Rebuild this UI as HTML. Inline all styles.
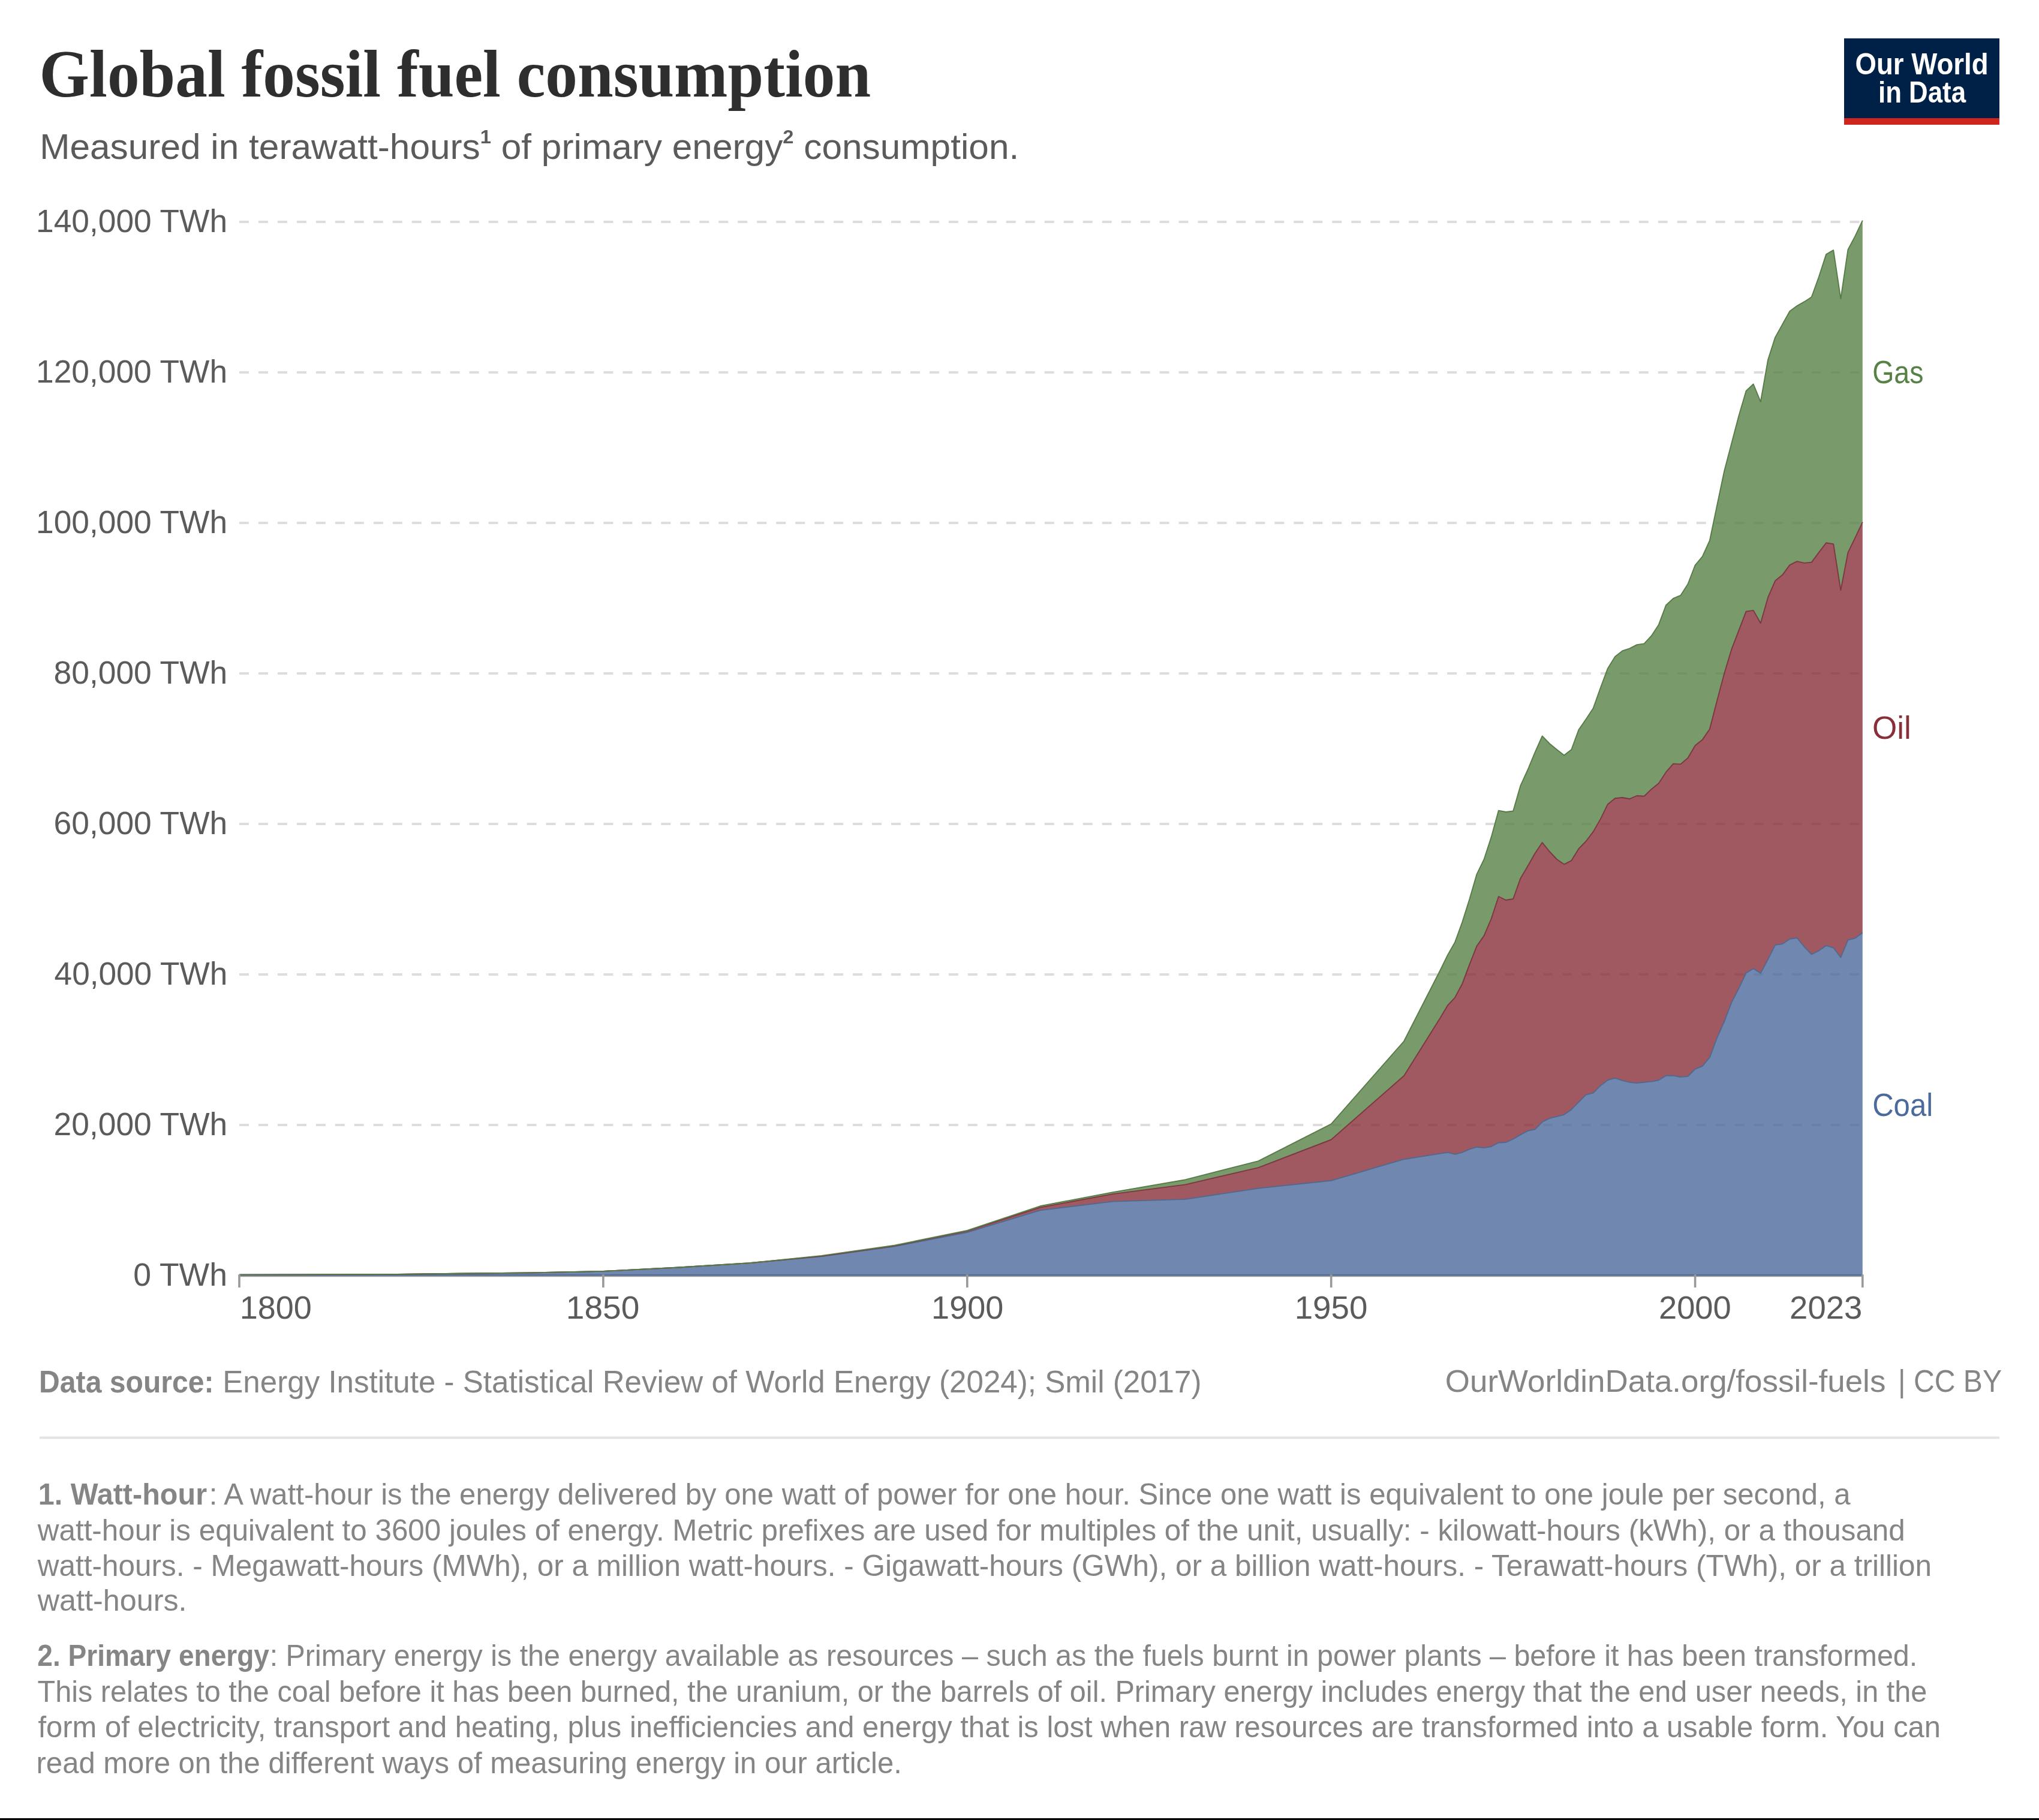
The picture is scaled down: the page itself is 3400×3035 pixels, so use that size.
<!DOCTYPE html>
<html><head><meta charset="utf-8"><title>Global fossil fuel consumption</title>
<style>
html,body{margin:0;padding:0;background:#fff;}
body{width:3400px;height:3035px;overflow:hidden;font-family:"Liberation Sans",sans-serif;}
svg{display:block;will-change:transform;}
</style></head><body>
<svg width="3400" height="3035" viewBox="0 0 3400 3035">
<rect width="3400" height="3035" fill="#fff"/>
<line x1="399" y1="1876.0" x2="3106" y2="1876.0" stroke="#dddddd" stroke-width="4" stroke-dasharray="15.985,15.985"/>
<line x1="399" y1="1625.0" x2="3106" y2="1625.0" stroke="#dddddd" stroke-width="4" stroke-dasharray="15.985,15.985"/>
<line x1="399" y1="1374.1" x2="3106" y2="1374.1" stroke="#dddddd" stroke-width="4" stroke-dasharray="15.985,15.985"/>
<line x1="399" y1="1123.1" x2="3106" y2="1123.1" stroke="#dddddd" stroke-width="4" stroke-dasharray="15.985,15.985"/>
<line x1="399" y1="872.1" x2="3106" y2="872.1" stroke="#dddddd" stroke-width="4" stroke-dasharray="15.985,15.985"/>
<line x1="399" y1="621.1" x2="3106" y2="621.1" stroke="#dddddd" stroke-width="4" stroke-dasharray="15.985,15.985"/>
<line x1="399" y1="370.1" x2="3106" y2="370.1" stroke="#dddddd" stroke-width="4" stroke-dasharray="15.985,15.985"/>
<line x1="399" y1="2128.3" x2="3107" y2="2128.3" stroke="#999999" stroke-width="2"/>
<polygon points="399.0,2127.4 399.0,2125.8 520.4,2125.4 641.8,2125.1 763.1,2123.7 884.5,2122.5 1005.9,2119.9 1127.3,2113.7 1248.7,2106.4 1370.0,2095.1 1491.4,2078.6 1612.8,2055.1 1734.2,2018.4 1855.6,2003.6 1976.9,1999.9 2098.3,1981.6 2219.7,1968.8 2341.1,1933.2 2401.8,1923.6 2413.9,1921.7 2426.0,1924.8 2438.2,1921.9 2450.3,1916.3 2462.5,1912.8 2474.6,1914.1 2486.7,1912.0 2498.9,1905.5 2511.0,1905.0 2523.2,1899.5 2535.3,1892.4 2547.4,1885.8 2559.6,1883.3 2571.7,1871.0 2583.8,1864.9 2596.0,1861.8 2608.1,1858.8 2620.3,1850.2 2632.4,1837.9 2644.5,1825.7 2656.7,1822.6 2668.8,1810.3 2680.9,1801.2 2693.1,1797.8 2705.2,1801.8 2717.4,1804.8 2729.5,1806.1 2741.6,1804.8 2753.8,1803.6 2765.9,1801.2 2778.0,1793.8 2790.2,1793.8 2802.3,1796.0 2814.5,1794.9 2826.6,1782.8 2838.7,1777.9 2850.9,1763.3 2863.0,1731.0 2875.2,1703.5 2887.3,1671.9 2899.4,1648.4 2911.6,1622.5 2923.7,1615.3 2935.8,1622.9 2948.0,1599.9 2960.1,1575.9 2972.3,1574.0 2984.4,1565.9 2996.5,1564.0 3008.7,1578.8 3020.8,1591.5 3032.9,1585.3 3045.1,1576.9 3057.2,1580.5 3069.4,1596.6 3081.5,1567.5 3093.6,1564.3 3105.8,1555.4 3105.8,2127.4" fill="#4c6a9c" fill-opacity="0.80"/>
<polygon points="399.0,2125.8 520.4,2125.4 641.8,2125.1 763.1,2123.7 884.5,2122.5 1005.9,2119.9 1127.3,2113.7 1248.7,2106.3 1370.0,2094.7 1491.4,2077.5 1612.8,2052.8 1734.2,2013.6 1855.6,1991.1 1976.9,1975.4 2098.3,1947.1 2219.7,1900.5 2341.1,1794.0 2401.8,1697.0 2413.9,1676.7 2426.0,1663.6 2438.2,1640.8 2450.3,1608.6 2462.5,1577.7 2474.6,1560.4 2486.7,1532.0 2498.9,1495.0 2511.0,1501.0 2523.2,1499.0 2535.3,1465.0 2547.4,1444.5 2559.6,1423.0 2571.7,1405.0 2583.8,1420.0 2596.0,1433.0 2608.1,1441.3 2620.3,1435.1 2632.4,1415.4 2644.5,1403.0 2656.7,1386.9 2668.8,1365.9 2680.9,1341.2 2693.1,1331.3 2705.2,1330.0 2717.4,1332.2 2729.5,1327.0 2741.6,1327.8 2753.8,1315.9 2765.9,1306.3 2778.0,1287.7 2790.2,1273.6 2802.3,1274.4 2814.5,1264.0 2826.6,1243.2 2838.7,1233.6 2850.9,1215.8 2863.0,1169.0 2875.2,1123.0 2887.3,1082.9 2899.4,1051.4 2911.6,1019.7 2923.7,1017.9 2935.8,1039.3 2948.0,996.4 2960.1,968.6 2972.3,958.6 2984.4,942.1 2996.5,936.1 3008.7,938.9 3020.8,937.6 3032.9,921.4 3045.1,905.3 3057.2,907.1 3069.4,984.3 3081.5,921.4 3093.6,896.4 3105.8,870.7 3105.8,1555.4 3093.6,1564.3 3081.5,1567.5 3069.4,1596.6 3057.2,1580.5 3045.1,1576.9 3032.9,1585.3 3020.8,1591.5 3008.7,1578.8 2996.5,1564.0 2984.4,1565.9 2972.3,1574.0 2960.1,1575.9 2948.0,1599.9 2935.8,1622.9 2923.7,1615.3 2911.6,1622.5 2899.4,1648.4 2887.3,1671.9 2875.2,1703.5 2863.0,1731.0 2850.9,1763.3 2838.7,1777.9 2826.6,1782.8 2814.5,1794.9 2802.3,1796.0 2790.2,1793.8 2778.0,1793.8 2765.9,1801.2 2753.8,1803.6 2741.6,1804.8 2729.5,1806.1 2717.4,1804.8 2705.2,1801.8 2693.1,1797.8 2680.9,1801.2 2668.8,1810.3 2656.7,1822.6 2644.5,1825.7 2632.4,1837.9 2620.3,1850.2 2608.1,1858.8 2596.0,1861.8 2583.8,1864.9 2571.7,1871.0 2559.6,1883.3 2547.4,1885.8 2535.3,1892.4 2523.2,1899.5 2511.0,1905.0 2498.9,1905.5 2486.7,1912.0 2474.6,1914.1 2462.5,1912.8 2450.3,1916.3 2438.2,1921.9 2426.0,1924.8 2413.9,1921.7 2401.8,1923.6 2341.1,1933.2 2219.7,1968.8 2098.3,1981.6 1976.9,1999.9 1855.6,2003.6 1734.2,2018.4 1612.8,2055.1 1491.4,2078.6 1370.0,2095.1 1248.7,2106.4 1127.3,2113.7 1005.9,2119.9 884.5,2122.5 763.1,2123.7 641.8,2125.1 520.4,2125.4 399.0,2125.8" fill="#883039" fill-opacity="0.80"/>
<polygon points="399.0,2125.8 520.4,2125.4 641.8,2125.1 763.1,2123.7 884.5,2122.5 1005.9,2119.9 1127.3,2113.7 1248.7,2106.3 1370.0,2093.9 1491.4,2076.7 1612.8,2052.0 1734.2,2011.3 1855.6,1988.1 1976.9,1967.2 2098.3,1936.1 2219.7,1874.3 2341.1,1736.3 2401.8,1617.5 2413.9,1592.6 2426.0,1571.5 2438.2,1538.1 2450.3,1499.8 2462.5,1457.8 2474.6,1433.0 2486.7,1395.9 2498.9,1351.6 2511.0,1354.0 2523.2,1352.5 2535.3,1310.4 2547.4,1284.0 2559.6,1254.6 2571.7,1227.4 2583.8,1240.0 2596.0,1250.0 2608.1,1259.5 2620.3,1250.0 2632.4,1217.0 2644.5,1199.5 2656.7,1181.0 2668.8,1147.0 2680.9,1114.7 2693.1,1095.0 2705.2,1085.5 2717.4,1081.3 2729.5,1075.1 2741.6,1073.4 2753.8,1060.2 2765.9,1041.7 2778.0,1009.3 2790.2,998.0 2802.3,992.9 2814.5,974.0 2826.6,942.6 2838.7,928.1 2850.9,901.5 2863.0,843.5 2875.2,785.5 2887.3,739.5 2899.4,693.6 2911.6,652.0 2923.7,640.5 2935.8,670.0 2948.0,600.3 2960.1,562.6 2972.3,540.8 2984.4,519.0 2996.5,510.1 3008.7,503.2 3020.8,495.3 3032.9,461.7 3045.1,424.1 3057.2,417.2 3069.4,498.3 3081.5,416.2 3093.6,393.4 3105.8,367.7 3105.8,870.7 3093.6,896.4 3081.5,921.4 3069.4,984.3 3057.2,907.1 3045.1,905.3 3032.9,921.4 3020.8,937.6 3008.7,938.9 2996.5,936.1 2984.4,942.1 2972.3,958.6 2960.1,968.6 2948.0,996.4 2935.8,1039.3 2923.7,1017.9 2911.6,1019.7 2899.4,1051.4 2887.3,1082.9 2875.2,1123.0 2863.0,1169.0 2850.9,1215.8 2838.7,1233.6 2826.6,1243.2 2814.5,1264.0 2802.3,1274.4 2790.2,1273.6 2778.0,1287.7 2765.9,1306.3 2753.8,1315.9 2741.6,1327.8 2729.5,1327.0 2717.4,1332.2 2705.2,1330.0 2693.1,1331.3 2680.9,1341.2 2668.8,1365.9 2656.7,1386.9 2644.5,1403.0 2632.4,1415.4 2620.3,1435.1 2608.1,1441.3 2596.0,1433.0 2583.8,1420.0 2571.7,1405.0 2559.6,1423.0 2547.4,1444.5 2535.3,1465.0 2523.2,1499.0 2511.0,1501.0 2498.9,1495.0 2486.7,1532.0 2474.6,1560.4 2462.5,1577.7 2450.3,1608.6 2438.2,1640.8 2426.0,1663.6 2413.9,1676.7 2401.8,1697.0 2341.1,1794.0 2219.7,1900.5 2098.3,1947.1 1976.9,1975.4 1855.6,1991.1 1734.2,2013.6 1612.8,2052.8 1491.4,2077.5 1370.0,2094.7 1248.7,2106.3 1127.3,2113.7 1005.9,2119.9 884.5,2122.5 763.1,2123.7 641.8,2125.1 520.4,2125.4 399.0,2125.8" fill="#578145" fill-opacity="0.80"/>
<polyline points="399.0,2126.3 3105.8,2126.3" fill="none" stroke="#52688f" stroke-width="1.9"/>
<polyline points="399.0,2125.8 520.4,2125.4 641.8,2125.1 763.1,2123.7 884.5,2122.5 1005.9,2119.9 1127.3,2113.7 1248.7,2106.4 1370.0,2095.1 1491.4,2078.6 1612.8,2055.1 1734.2,2018.4 1855.6,2003.6 1976.9,1999.9 2098.3,1981.6 2219.7,1968.8 2341.1,1933.2 2401.8,1923.6 2413.9,1921.7 2426.0,1924.8 2438.2,1921.9 2450.3,1916.3 2462.5,1912.8 2474.6,1914.1 2486.7,1912.0 2498.9,1905.5 2511.0,1905.0 2523.2,1899.5 2535.3,1892.4 2547.4,1885.8 2559.6,1883.3 2571.7,1871.0 2583.8,1864.9 2596.0,1861.8 2608.1,1858.8 2620.3,1850.2 2632.4,1837.9 2644.5,1825.7 2656.7,1822.6 2668.8,1810.3 2680.9,1801.2 2693.1,1797.8 2705.2,1801.8 2717.4,1804.8 2729.5,1806.1 2741.6,1804.8 2753.8,1803.6 2765.9,1801.2 2778.0,1793.8 2790.2,1793.8 2802.3,1796.0 2814.5,1794.9 2826.6,1782.8 2838.7,1777.9 2850.9,1763.3 2863.0,1731.0 2875.2,1703.5 2887.3,1671.9 2899.4,1648.4 2911.6,1622.5 2923.7,1615.3 2935.8,1622.9 2948.0,1599.9 2960.1,1575.9 2972.3,1574.0 2984.4,1565.9 2996.5,1564.0 3008.7,1578.8 3020.8,1591.5 3032.9,1585.3 3045.1,1576.9 3057.2,1580.5 3069.4,1596.6 3081.5,1567.5 3093.6,1564.3 3105.8,1555.4" fill="none" stroke="#52688f" stroke-width="1.9" stroke-linejoin="round"/>
<polyline points="399.0,2125.8 520.4,2125.4 641.8,2125.1 763.1,2123.7 884.5,2122.5 1005.9,2119.9 1127.3,2113.7 1248.7,2106.3 1370.0,2094.7 1491.4,2077.5 1612.8,2052.8 1734.2,2013.6 1855.6,1991.1 1976.9,1975.4 2098.3,1947.1 2219.7,1900.5 2341.1,1794.0 2401.8,1697.0 2413.9,1676.7 2426.0,1663.6 2438.2,1640.8 2450.3,1608.6 2462.5,1577.7 2474.6,1560.4 2486.7,1532.0 2498.9,1495.0 2511.0,1501.0 2523.2,1499.0 2535.3,1465.0 2547.4,1444.5 2559.6,1423.0 2571.7,1405.0 2583.8,1420.0 2596.0,1433.0 2608.1,1441.3 2620.3,1435.1 2632.4,1415.4 2644.5,1403.0 2656.7,1386.9 2668.8,1365.9 2680.9,1341.2 2693.1,1331.3 2705.2,1330.0 2717.4,1332.2 2729.5,1327.0 2741.6,1327.8 2753.8,1315.9 2765.9,1306.3 2778.0,1287.7 2790.2,1273.6 2802.3,1274.4 2814.5,1264.0 2826.6,1243.2 2838.7,1233.6 2850.9,1215.8 2863.0,1169.0 2875.2,1123.0 2887.3,1082.9 2899.4,1051.4 2911.6,1019.7 2923.7,1017.9 2935.8,1039.3 2948.0,996.4 2960.1,968.6 2972.3,958.6 2984.4,942.1 2996.5,936.1 3008.7,938.9 3020.8,937.6 3032.9,921.4 3045.1,905.3 3057.2,907.1 3069.4,984.3 3081.5,921.4 3093.6,896.4 3105.8,870.7" fill="none" stroke="#7d3741" stroke-width="1.9" stroke-linejoin="round"/>
<polyline points="399.0,2125.8 520.4,2125.4 641.8,2125.1 763.1,2123.7 884.5,2122.5 1005.9,2119.9 1127.3,2113.7 1248.7,2106.3 1370.0,2093.9 1491.4,2076.7 1612.8,2052.0 1734.2,2011.3 1855.6,1988.1 1976.9,1967.2 2098.3,1936.1 2219.7,1874.3 2341.1,1736.3 2401.8,1617.5 2413.9,1592.6 2426.0,1571.5 2438.2,1538.1 2450.3,1499.8 2462.5,1457.8 2474.6,1433.0 2486.7,1395.9 2498.9,1351.6 2511.0,1354.0 2523.2,1352.5 2535.3,1310.4 2547.4,1284.0 2559.6,1254.6 2571.7,1227.4 2583.8,1240.0 2596.0,1250.0 2608.1,1259.5 2620.3,1250.0 2632.4,1217.0 2644.5,1199.5 2656.7,1181.0 2668.8,1147.0 2680.9,1114.7 2693.1,1095.0 2705.2,1085.5 2717.4,1081.3 2729.5,1075.1 2741.6,1073.4 2753.8,1060.2 2765.9,1041.7 2778.0,1009.3 2790.2,998.0 2802.3,992.9 2814.5,974.0 2826.6,942.6 2838.7,928.1 2850.9,901.5 2863.0,843.5 2875.2,785.5 2887.3,739.5 2899.4,693.6 2911.6,652.0 2923.7,640.5 2935.8,670.0 2948.0,600.3 2960.1,562.6 2972.3,540.8 2984.4,519.0 2996.5,510.1 3008.7,503.2 3020.8,495.3 3032.9,461.7 3045.1,424.1 3057.2,417.2 3069.4,498.3 3081.5,416.2 3093.6,393.4 3105.8,367.7" fill="none" stroke="#587c47" stroke-width="1.9" stroke-linejoin="round"/>
<line x1="399.0" y1="2125.3" x2="399.0" y2="2147" stroke="#999999" stroke-width="3.6"/>
<line x1="1005.9" y1="2125.3" x2="1005.9" y2="2147" stroke="#999999" stroke-width="3.6"/>
<line x1="1612.8" y1="2125.3" x2="1612.8" y2="2147" stroke="#999999" stroke-width="3.6"/>
<line x1="2219.7" y1="2125.3" x2="2219.7" y2="2147" stroke="#999999" stroke-width="3.6"/>
<line x1="2826.6" y1="2125.3" x2="2826.6" y2="2147" stroke="#999999" stroke-width="3.6"/>
<line x1="3105.8" y1="2125.3" x2="3105.8" y2="2147" stroke="#999999" stroke-width="3.6"/>
<text id="y0" x="222.19" y="2144.3" font-family="Liberation Sans, sans-serif" font-size="52.8" fill="#5b5b5b" textLength="156.73" lengthAdjust="spacingAndGlyphs">0 TWh</text>
<text id="y1" x="89.58" y="1893.3" font-family="Liberation Sans, sans-serif" font-size="52.8" fill="#5b5b5b" textLength="289.66" lengthAdjust="spacingAndGlyphs">20,000 TWh</text>
<text id="y2" x="90.59" y="1642.3" font-family="Liberation Sans, sans-serif" font-size="52.8" fill="#5b5b5b" textLength="288.66" lengthAdjust="spacingAndGlyphs">40,000 TWh</text>
<text id="y3" x="89.58" y="1391.4" font-family="Liberation Sans, sans-serif" font-size="52.8" fill="#5b5b5b" textLength="289.66" lengthAdjust="spacingAndGlyphs">60,000 TWh</text>
<text id="y4" x="89.57" y="1140.4" font-family="Liberation Sans, sans-serif" font-size="52.8" fill="#5b5b5b" textLength="289.66" lengthAdjust="spacingAndGlyphs">80,000 TWh</text>
<text id="y5" x="60.06" y="889.4" font-family="Liberation Sans, sans-serif" font-size="52.8" fill="#5b5b5b" textLength="319.02" lengthAdjust="spacingAndGlyphs">100,000 TWh</text>
<text id="y6" x="60.06" y="638.4" font-family="Liberation Sans, sans-serif" font-size="52.8" fill="#5b5b5b" textLength="319.02" lengthAdjust="spacingAndGlyphs">120,000 TWh</text>
<text id="y7" x="60.06" y="387.4" font-family="Liberation Sans, sans-serif" font-size="52.8" fill="#5b5b5b" textLength="319.02" lengthAdjust="spacingAndGlyphs">140,000 TWh</text>
<text id="x1800" x="399.71" y="2199.0" font-family="Liberation Sans, sans-serif" font-size="52.8" fill="#5b5b5b" textLength="120.05" lengthAdjust="spacingAndGlyphs">1800</text>
<text id="x1850" x="943.83" y="2199.0" font-family="Liberation Sans, sans-serif" font-size="52.8" fill="#5b5b5b" textLength="122.45" lengthAdjust="spacingAndGlyphs">1850</text>
<text id="x1900" x="1553.13" y="2199.0" font-family="Liberation Sans, sans-serif" font-size="52.8" fill="#5b5b5b" textLength="120.25" lengthAdjust="spacingAndGlyphs">1900</text>
<text id="x1950" x="2158.65" y="2199.0" font-family="Liberation Sans, sans-serif" font-size="52.8" fill="#5b5b5b" textLength="121.85" lengthAdjust="spacingAndGlyphs">1950</text>
<text id="x2000" x="2765.93" y="2199.0" font-family="Liberation Sans, sans-serif" font-size="52.8" fill="#5b5b5b" textLength="120.85" lengthAdjust="spacingAndGlyphs">2000</text>
<text id="x2023" x="2984.10" y="2199.0" font-family="Liberation Sans, sans-serif" font-size="52.8" fill="#5b5b5b" textLength="121.25" lengthAdjust="spacingAndGlyphs">2023</text>
<text id="lgas" x="3122.23" y="638.7" font-family="Liberation Sans, sans-serif" font-size="52.8" fill="#578145" textLength="85.24" lengthAdjust="spacingAndGlyphs">Gas</text>
<text id="loil" x="3121.97" y="1232.4" font-family="Liberation Sans, sans-serif" font-size="52.8" fill="#883039" textLength="64.93" lengthAdjust="spacingAndGlyphs">Oil</text>
<text id="lcoal" x="3122.13" y="1860.8" font-family="Liberation Sans, sans-serif" font-size="52.8" fill="#4c6a9c" textLength="100.99" lengthAdjust="spacingAndGlyphs">Coal</text>
<text id="title" x="65.60" y="161.0" font-family="Liberation Serif, serif" font-size="112.0" fill="#2e2e2e" font-weight="bold" textLength="1386.52" lengthAdjust="spacingAndGlyphs">Global fossil fuel consumption</text>
<text id="sub" x="66.22" y="265.3" font-family="Liberation Sans, sans-serif" font-size="59.0" fill="#5b5b5b" textLength="1633.02" lengthAdjust="spacingAndGlyphs">Measured in terawatt-hours<tspan font-size="32" font-weight="bold" dy="-26.5">1</tspan><tspan dy="26.5"> of primary energy</tspan><tspan font-size="32" font-weight="bold" dy="-26.5">2</tspan><tspan dy="26.5"> consumption.</tspan></text>
<text id="src1" x="65.12" y="2321.5" font-family="Liberation Sans, sans-serif" font-size="52.5" fill="#858585" font-weight="bold" textLength="291.43" lengthAdjust="spacingAndGlyphs">Data source:</text>
<text id="src2" x="371.29" y="2321.5" font-family="Liberation Sans, sans-serif" font-size="52.5" fill="#858585" textLength="1632.20" lengthAdjust="spacingAndGlyphs">Energy Institute - Statistical Review of World Energy (2024); Smil (2017)</text>
<text id="srcr" x="2409.83" y="2321.2" font-family="Liberation Sans, sans-serif" font-size="52.5" fill="#858585" textLength="734.53" lengthAdjust="spacingAndGlyphs">OurWorldinData.org/fossil-fuels</text>
<text id="srcr2" x="3165.04" y="2321.2" font-family="Liberation Sans, sans-serif" font-size="52.5" fill="#858585" textLength="173.07" lengthAdjust="spacingAndGlyphs">| CC BY</text>
<text id="fn1a" x="63.67" y="2509.4" font-family="Liberation Sans, sans-serif" font-size="50.0" fill="#858585" font-weight="bold" textLength="281.38" lengthAdjust="spacingAndGlyphs">1. Watt-hour</text>
<text id="fn1b" x="348.68" y="2509.4" font-family="Liberation Sans, sans-serif" font-size="50.0" fill="#858585" textLength="2736.84" lengthAdjust="spacingAndGlyphs">: A watt-hour is the energy delivered by one watt of power for one hour. Since one watt is equivalent to one joule per second, a</text>
<text id="fn2" x="62.80" y="2568.6" font-family="Liberation Sans, sans-serif" font-size="50.0" fill="#858585" textLength="3113.98" lengthAdjust="spacingAndGlyphs">watt-hour is equivalent to 3600 joules of energy. Metric prefixes are used for multiples of the unit, usually: - kilowatt-hours (kWh), or a thousand</text>
<text id="fn3" x="62.80" y="2627.5" font-family="Liberation Sans, sans-serif" font-size="50.0" fill="#858585" textLength="3158.26" lengthAdjust="spacingAndGlyphs">watt-hours. - Megawatt-hours (MWh), or a million watt-hours. - Gigawatt-hours (GWh), or a billion watt-hours. - Terawatt-hours (TWh), or a trillion</text>
<text id="fn4" x="62.80" y="2686.3" font-family="Liberation Sans, sans-serif" font-size="50.0" fill="#858585" textLength="248.73" lengthAdjust="spacingAndGlyphs">watt-hours.</text>
<text id="fn5a" x="62.31" y="2778.3" font-family="Liberation Sans, sans-serif" font-size="50.0" fill="#858585" font-weight="bold" textLength="386.69" lengthAdjust="spacingAndGlyphs">2. Primary energy</text>
<text id="fn5b" x="449.64" y="2778.3" font-family="Liberation Sans, sans-serif" font-size="50.0" fill="#858585" textLength="2747.62" lengthAdjust="spacingAndGlyphs">: Primary energy is the energy available as resources – such as the fuels burnt in power plants – before it has been transformed.</text>
<text id="fn6" x="62.51" y="2838.3" font-family="Liberation Sans, sans-serif" font-size="50.0" fill="#858585" textLength="3150.75" lengthAdjust="spacingAndGlyphs">This relates to the coal before it has been burned, the uranium, or the barrels of oil. Primary energy includes energy that the end user needs, in the</text>
<text id="fn7" x="63.51" y="2897.2" font-family="Liberation Sans, sans-serif" font-size="50.0" fill="#858585" textLength="3172.53" lengthAdjust="spacingAndGlyphs">form of electricity, transport and heating, plus inefficiencies and energy that is lost when raw resources are transformed into a usable form. You can</text>
<text id="fn8" x="60.55" y="2956.7" font-family="Liberation Sans, sans-serif" font-size="50.0" fill="#858585" textLength="1443.28" lengthAdjust="spacingAndGlyphs">read more on the different ways of measuring energy in our article.</text>
<rect x="3075" y="64" width="259" height="133.5" fill="#002147"/>
<rect x="3075" y="197" width="259" height="11" fill="#ce261e"/>
<text x="3204.5" y="124" font-family="Liberation Sans, sans-serif" font-size="50" fill="#ffffff" text-anchor="middle" font-weight="bold" textLength="222" lengthAdjust="spacingAndGlyphs">Our World</text>
<text x="3205" y="171.4" font-family="Liberation Sans, sans-serif" font-size="50" fill="#ffffff" text-anchor="middle" font-weight="bold" textLength="146" lengthAdjust="spacingAndGlyphs">in Data</text>
<line x1="66" y1="2397.4" x2="3334" y2="2397.4" stroke="#e3e3e3" stroke-width="4"/>
<rect x="0" y="3032" width="3400" height="3" fill="#000"/>
</svg>
</body></html>
